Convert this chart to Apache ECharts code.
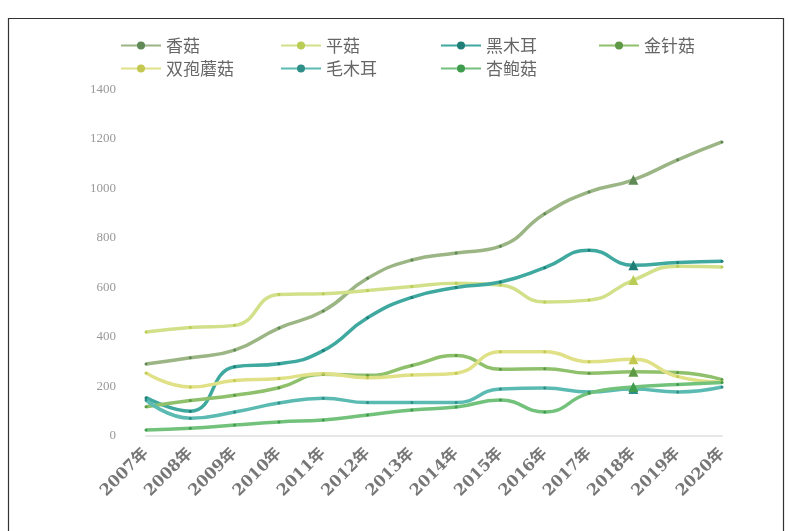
<!DOCTYPE html>
<html>
<head>
<meta charset="utf-8">
<script src="https://cdn.jsdelivr.net/npm/echarts@6/dist/echarts.min.js"></script>
<style>
html,body{margin:0;padding:0;background:#fff;}
#main{width:789px;height:531px;}
</style>
</head>
<body>
<div id="main"></div>
<script>
const years = ['2007年','2008年','2009年','2010年','2011年','2012年','2013年','2014年','2015年','2016年','2017年','2018年','2019年','2020年'];
const xianggu   = [291, 316, 347, 436, 505, 637, 711, 739, 767, 898, 986, 1035, 1116, 1188];
const pinggu    = [420, 438, 447, 572, 575, 588, 604, 617, 610, 541, 549, 630, 686, 683];
const heimuer   = [155, 100, 280, 292, 345, 478, 560, 600, 622, 680, 751, 690, 701, 706];
const jinzhengu = [118, 143, 165, 195, 250, 245, 285, 325, 270, 272, 254, 260, 257, 228];
const shuangbao = [255, 198, 224, 232, 252, 235, 246, 254, 340, 340, 300, 310, 240, 218];
const maomuer   = [145, 72, 97, 133, 153, 135, 135, 135, 190, 194, 178, 190, 178, 198];
const xingbaogu = [24, 31, 44, 57, 65, 85, 105, 117, 145, 97, 173, 198, 208, 216];

const names = ['香菇','平菇','黑木耳','金针菇','双孢蘑菇','毛木耳','杏鲍菇'];
const values = [xianggu, pinggu, heimuer, jinzhengu, shuangbao, maomuer, xingbaogu];
const lineColors = ['#9bb584','#d3e08a','#3fa9a0','#8fc06c','#e0e187','#5bbbb2','#73c27c'];
const dotColors  = ['#5f8a55','#b9cc55','#1f7f77','#5e9a45','#c4c850','#2f8f88','#3e9c4c'];

const chart = echarts.init(document.getElementById('main'));
const series = names.map((n, k) => ({
  name: n,
  type: 'line',
  smooth: true,
  symbol: 'circle',
  symbolSize: 3,
  lineStyle: { width: 3.5, color: lineColors[k] },
  itemStyle: { color: dotColors[k], borderWidth: 0 },
  data: values[k].map((v, i) => i === 11 ? { value: v, symbol: 'triangle', symbolSize: 10 } : v)
}));

const legendCols = [[names[0], names[4]], [names[1], names[5]], [names[2], names[6]], [names[3]]];
const legendLeft = [115, 275, 435, 593];
const legends = legendCols.map((cols, c) => ({
  orient: 'vertical',
  left: legendLeft[c], top: 32,
  itemWidth: 40, itemHeight: 10, itemGap: 6,
  textStyle: { fontSize: 17, color: '#666', fontFamily: "'Noto Sans CJK SC'" },
  data: cols
}));

chart.setOption({
  animation: false,
  graphic: [{
    type: 'rect',
    shape: { x: 8.5, y: 18.5, width: 775, height: 530 },
    style: { fill: 'none', stroke: '#333', lineWidth: 1.2 },
    silent: true
  }],
  legend: legends,
  grid: { left: 146, right: 67, top: 89.5, bottom: 95, containLabel: false },
  xAxis: {
    type: 'category',
    data: years,
    boundaryGap: false,
    axisLine: { lineStyle: { color: '#e6e6e6', width: 2 } },
    axisTick: { show: false },
    axisLabel: { rotate: 45, fontSize: 16, color: '#777', fontWeight: 'bold', margin: 15,
      fontFamily: "'DejaVu Serif','Noto Sans CJK SC'" },
    splitLine: { show: false }
  },
  yAxis: {
    type: 'value',
    min: 0, max: 1400, interval: 200,
    axisLine: { show: false },
    axisTick: { show: false },
    splitLine: { show: false },
    axisLabel: { fontSize: 13, color: '#999', margin: 30, fontFamily: "'Liberation Serif'",
      formatter: v => String(v) }
  },
  series: series
});
</script>
</body>
</html>
